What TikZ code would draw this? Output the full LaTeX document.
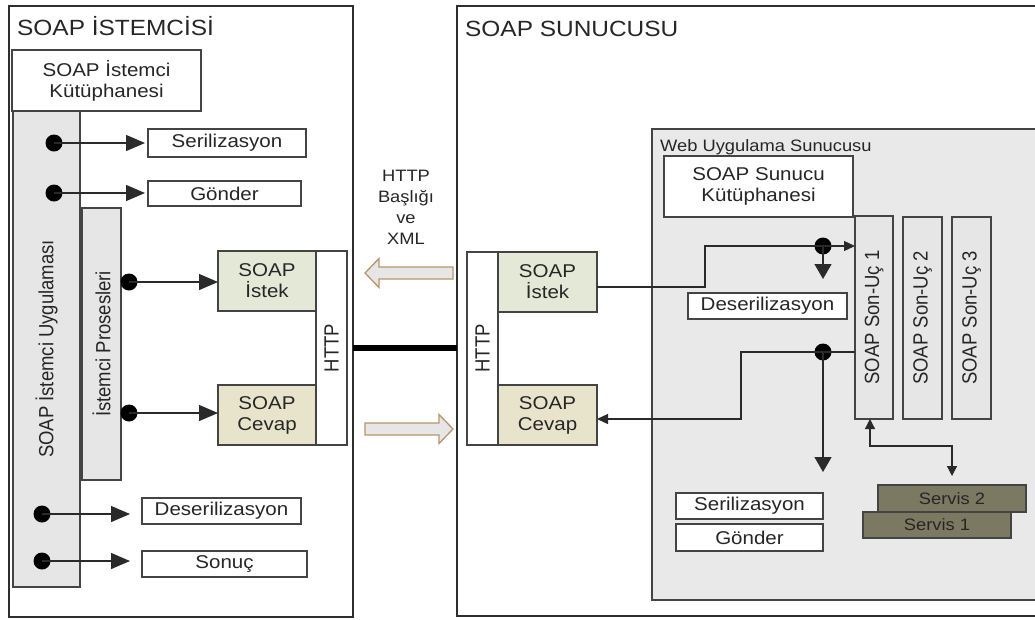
\documentclass[tikz,border=0pt]{standalone}
\usepackage{fontspec}
\setmainfont{Liberation Sans}[FakeStretch=1.11]
\newfontfamily\uprightsans{Liberation Sans}
\usetikzlibrary{arrows.meta}

% vertical label: rotated, widened across the bar like the horizontal text
\newcommand\sidetext[1]{\rotatebox{90}{\scalebox{1}[1.11]{\uprightsans #1}}}

\definecolor{txt}{HTML}{262626}
\definecolor{panelc}{HTML}{2E2E2E}
\definecolor{boxc}{HTML}{444444}
\definecolor{linec}{HTML}{2A2A2A}
\definecolor{barfill}{HTML}{E6E6E6}
\definecolor{webfill}{HTML}{E9E9E9}
\definecolor{reqfill}{HTML}{E4E8D6}
\definecolor{resfill}{HTML}{E7E4CB}
\definecolor{svcfill}{HTML}{7B7961}
\definecolor{arrowedge}{HTML}{B8956C}

\tikzset{
  panel/.style={draw=panelc, line width=1.6pt, fill=white, inner sep=0pt, outer sep=0pt, anchor=north west},
  heading/.style={text=txt, font=\fontsize{22}{26}\selectfont, anchor=base west, inner sep=0pt},
  box/.style={draw=boxc, line width=1.1pt, fill=white, inner sep=0pt, outer sep=0pt,
              text=txt, align=center, font=\fontsize{18.5}{21}\selectfont},
  bar/.style={box, fill=barfill},
  reqbox/.style={box, fill=reqfill},
  resbox/.style={box, fill=resfill},
  svcbox/.style={box, fill=svcfill, text=black!85, font=\fontsize{16.5}{20}\selectfont},
  dotn/.style={circle, fill=black, inner sep=0pt, minimum size=17pt},
  wire/.style={draw=linec, line width=1.3pt},
  bigtip/.style={-{Triangle[length=19pt,width=16pt]}},
  downtip/.style={-{Triangle[length=15pt,width=17pt]}},
  smalltip/.style={-{Triangle[length=11pt,width=10pt]}},
  bothtips/.style={{Triangle[length=10pt,width=10pt]}-{Triangle[length=10pt,width=10pt]}},
  hollow/.style={draw=arrowedge, fill=barfill, line width=1.3pt},
  trunk/.style={draw=black, line width=5.5pt}
}

\begin{document}
\begin{tikzpicture}[x=1pt, y=-1pt]
\useasboundingbox (0,0) rectangle (1035,619);
\clip (0,0) rectangle (1035,619);

% ---------------- client side ----------------
\node[panel, minimum width=344pt, minimum height=611pt] (client) at (9,6) {};
\node[heading] (ctitle) at (17,35) {SOAP İSTEMCİSİ};
\node[box, minimum width=189pt, minimum height=61pt] (clib) at (106.5,80.5) {SOAP İstemci\\Kütüphanesi};
\node[bar, minimum width=67pt, minimum height=476pt] (capp) at (46.5,349) {\sidetext{SOAP İstemci Uygulaması}};
\node[bar, minimum width=39pt, minimum height=272pt] (cproc) at (101.5,344) {\sidetext{İstemci Prosesleri}};
\node[box, minimum width=158pt, minimum height=28pt] (cser) at (227,143) {Serilizasyon};
\node[box, minimum width=153pt, minimum height=25pt] (cgon) at (224.5,193.5) {Gönder};
\node[reqbox, minimum width=98pt, minimum height=60pt] (creq) at (267,281) {SOAP\\İstek};
\node[resbox, minimum width=98pt, minimum height=60pt] (cres) at (267,415) {SOAP\\Cevap};
\node[box, minimum width=31pt, minimum height=194pt] (chttp) at (331.5,348) {\sidetext{HTTP}};
\node[box, minimum width=159pt, minimum height=26pt] (cdes) at (221.5,511) {Deserilizasyon};
\node[box, minimum width=165pt, minimum height=26pt] (cson) at (224.5,564) {Sonuç};

\node[dotn] (d1) at (54,143) {};
\node[dotn] (d2) at (54,193) {};
\node[dotn] (d3) at (129,282) {};
\node[dotn] (d4) at (129,413) {};
\node[dotn] (d5) at (42,514) {};
\node[dotn] (d6) at (42,561) {};

\draw[wire, bigtip, shorten >=3pt] (d1.center) -- (d1 -| cser.west);
\draw[wire, bigtip, shorten >=3pt] (d2.center) -- (d2 -| cgon.west);
\draw[wire, bigtip] (d3.center) -- (d3 -| creq.west);
\draw[wire, bigtip] (d4.center) -- (d4 -| cres.west);
\draw[wire, bigtip, shorten >=12pt] (d5.center) -- (d5 -| cdes.west);
\draw[wire, bigtip, shorten >=12pt] (d6.center) -- (d6 -| cson.west);

% ---------------- server side ----------------
\node[panel, minimum width=600pt, minimum height=610pt] (server) at (457,6) {};
\node[heading] (stitle) at (465,36) {SOAP SUNUCUSU};
\node[box, minimum width=31pt, minimum height=193pt] (shttp) at (482.5,348.5) {\sidetext{HTTP}};
\node[reqbox, minimum width=99pt, minimum height=60pt] (sreq) at (547.5,282) {SOAP\\İstek};
\node[resbox, minimum width=99pt, minimum height=60pt] (sres) at (547.5,415) {SOAP\\Cevap};

\node[panel, fill=webfill, draw=boxc, line width=1.2pt, minimum width=450pt, minimum height=471pt] (web) at (652,129) {};
\node[anchor=base west, text=txt, font=\fontsize{16.5}{20}\selectfont, inner sep=0pt] (wtitle) at (660,151) {Web Uygulama Sunucusu};
\node[box, minimum width=189pt, minimum height=61pt] (slib) at (758.5,186.5) {SOAP Sunucu\\Kütüphanesi};
\node[box, minimum width=159pt, minimum height=26pt] (sdes) at (767.5,306) {Deserilizasyon};
\node[bar, minimum width=38pt, minimum height=203pt] (ep1) at (874,317.5) {\sidetext{SOAP Son-Uç 1}};
\node[bar, minimum width=39pt, minimum height=202pt] (ep2) at (922.5,318) {\sidetext{SOAP Son-Uç 2}};
\node[bar, minimum width=39pt, minimum height=202pt] (ep3) at (971.5,318) {\sidetext{SOAP Son-Uç 3}};
\node[box, minimum width=147pt, minimum height=26pt] (sser) at (749.5,506) {Serilizasyon};
\node[box, minimum width=147pt, minimum height=27pt] (sgon) at (749.5,537.5) {Gönder};
\node[svcbox, minimum width=148pt, minimum height=27pt] (svc2) at (952,498.5) {Servis 2};
\node[svcbox, minimum width=148pt, minimum height=26pt] (svc1) at (937,525) {Servis 1};

\node[dotn] (dA) at (823,246) {};
\node[dotn] (dB) at (823,352) {};
\coordinate (desin) at (823,279);
\coordinate (serout) at (823,472);

\draw[wire] ([yshift=-5pt]sreq.east) -| (705,246) -- (dA.center);
\draw[wire, smalltip] (dA.center) -- (dA -| ep1.west);
\draw[wire, downtip] (dA.center) -- (desin);
\draw[wire, smalltip] (ep1.west |- dB) -- (dB.center) -| (741,419) -- ([yshift=-4pt]sres.east);
\draw[wire, downtip] (dB.center) -- (serout);
\draw[wire, bothtips] ([xshift=-4pt]ep1.south) -- ++(0,27) -| ([yshift=9pt]svc2.north);

% ---------------- transport between the two sides ----------------
\draw[trunk] (client.east |- chttp.center) -- (server.west |- chttp.center);
\node[text=txt, align=center, font=\fontsize{16.5}{21}\selectfont] (hdr) at (406,207) {HTTP\\Başlığı\\ve\\XML};
\draw[hollow] (453,267) -- (379,267) -- (379,258.5) -- (365,273) -- (379,287.5) -- (379,279) -- (453,279) -- cycle;
\draw[hollow] (365,423) -- (439,423) -- (439,414.5) -- (453,429) -- (439,443.5) -- (439,435) -- (365,435) -- cycle;
\end{tikzpicture}
\end{document}
